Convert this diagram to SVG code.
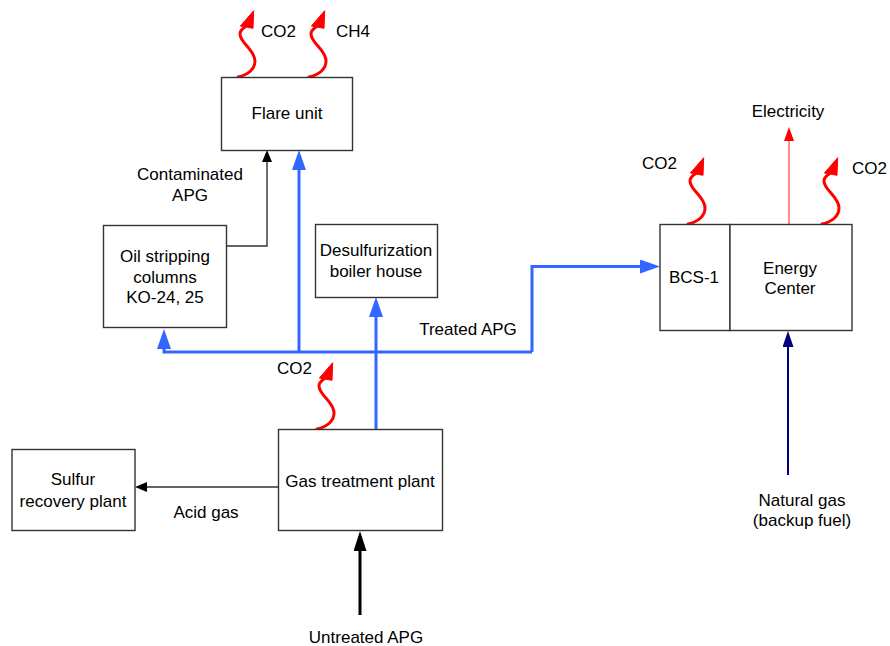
<svg xmlns="http://www.w3.org/2000/svg" width="890" height="646" viewBox="0 0 890 646">
<style>
text{font-family:"Liberation Sans",Arial,sans-serif;font-size:17px;fill:#000;text-anchor:middle}
.l{text-anchor:start}
.box{fill:#fff;stroke:#333;stroke-width:1.4}
.blue{fill:none;stroke:#3366ff;stroke-width:3}
.thin{fill:none;stroke:#333;stroke-width:1.4}
.sq{fill:none;stroke:#ff0000;stroke-width:3;stroke-linecap:round}
</style>
<defs>
<marker id="ab" markerUnits="userSpaceOnUse" markerWidth="20" markerHeight="14" refX="15" refY="7" orient="auto"><path d="M0,0L20,7L0,14z" fill="#3366ff"/></marker>
<marker id="ak" markerUnits="userSpaceOnUse" markerWidth="12" markerHeight="10" refX="9" refY="5" orient="auto"><path d="M0,0L12,5L0,10z" fill="#000"/></marker>
<marker id="akb" markerUnits="userSpaceOnUse" markerWidth="20" markerHeight="13" refX="15" refY="6.5" orient="auto"><path d="M0,0L20,6.5L0,13z" fill="#000"/></marker>
<marker id="an" markerUnits="userSpaceOnUse" markerWidth="16" markerHeight="11" refX="12" refY="5.5" orient="auto"><path d="M0,0L16,5.5L0,11z" fill="#000080"/></marker>
<marker id="ar" markerUnits="userSpaceOnUse" markerWidth="14" markerHeight="10" refX="11" refY="5" orient="auto"><path d="M0,0L14,5L0,10z" fill="#ff0000"/></marker>
<g id="squig">
<path class="sq" d="M0,0 C10,-2 17,-8 17,-16 C17,-27 2,-34 2,-43 C2,-46 4,-48 7,-50"/>
<polygon points="15.7,-66.3 2.4,-51 15,-48.7" fill="#ff0000" stroke="#ff0000" stroke-width="1" stroke-linejoin="round"/>
</g>
</defs>

<g id="connectors">
<path class="blue" d="M532,352 L164,352 L164,334" marker-end="url(#ab)"/>
<path class="blue" d="M299,352 L299,155" marker-end="url(#ab)"/>
<path class="blue" d="M376,429 L376,302" marker-end="url(#ab)"/>
<path class="blue" d="M532,352 L532,266.5 L655,266.5" marker-end="url(#ab)"/>
<path class="thin" d="M226,246 L267,246 L267,153" marker-end="url(#ak)"/>
<path class="thin" d="M278,487 L138,487" marker-end="url(#ak)"/>
<path fill="none" stroke="#000" stroke-width="3" d="M360,615 L360,536" marker-end="url(#akb)"/>
<path fill="none" stroke="#000080" stroke-width="2" d="M788,475 L788,335" marker-end="url(#an)"/>
<path fill="none" stroke="#ff6666" stroke-width="1.5" d="M789,224 L789,130" marker-end="url(#ar)"/>
<use href="#squig" x="238" y="77"/>
<use href="#squig" x="309" y="77"/>
<use href="#squig" x="317" y="429"/>
<use href="#squig" x="688" y="224"/>
<use href="#squig" x="822" y="224"/>
</g>

<g id="flare">
<rect class="box" x="221.5" y="77.5" width="131" height="73"/>
<text x="287" y="119">Flare unit</text>
</g>
<g id="oil">
<rect class="box" x="103.5" y="225.5" width="123" height="102"/>
<text x="165" y="262">Oil stripping</text>
<text x="165" y="283">columns</text>
<text x="165" y="303">KO-24, 25</text>
</g>
<g id="desulf">
<rect class="box" x="315.5" y="224.5" width="122" height="73"/>
<text x="376" y="256">Desulfurization</text>
<text x="376" y="277">boiler house</text>
</g>
<g id="gtp">
<rect class="box" x="278.5" y="429.5" width="164" height="101"/>
<text x="360" y="487">Gas treatment plant</text>
</g>
<g id="sulfur">
<rect class="box" x="12" y="449.5" width="123" height="81"/>
<text x="73" y="485">Sulfur</text>
<text x="73" y="507">recovery plant</text>
</g>
<g id="bcs">
<rect class="box" x="660" y="224.5" width="70" height="106"/>
<text x="694" y="283">BCS-1</text>
</g>
<g id="energy">
<rect class="box" x="730" y="224.5" width="122" height="106"/>
<text x="790" y="274">Energy</text>
<text x="790" y="294">Center</text>
</g>

<g id="labels">
<text class="l" x="261" y="37">CO2</text>
<text class="l" x="336" y="37">CH4</text>
<text x="190" y="180">Contaminated</text>
<text x="190" y="201">APG</text>
<text x="468" y="335">Treated APG</text>
<text class="l" x="277" y="374">CO2</text>
<text class="l" x="642" y="169">CO2</text>
<text class="l" x="852" y="174">CO2</text>
<text x="788" y="117">Electricity</text>
<text x="802" y="506">Natural gas</text>
<text x="802" y="526">(backup fuel)</text>
<text x="206" y="518">Acid gas</text>
<text x="366" y="643">Untreated APG</text>
</g>
</svg>
